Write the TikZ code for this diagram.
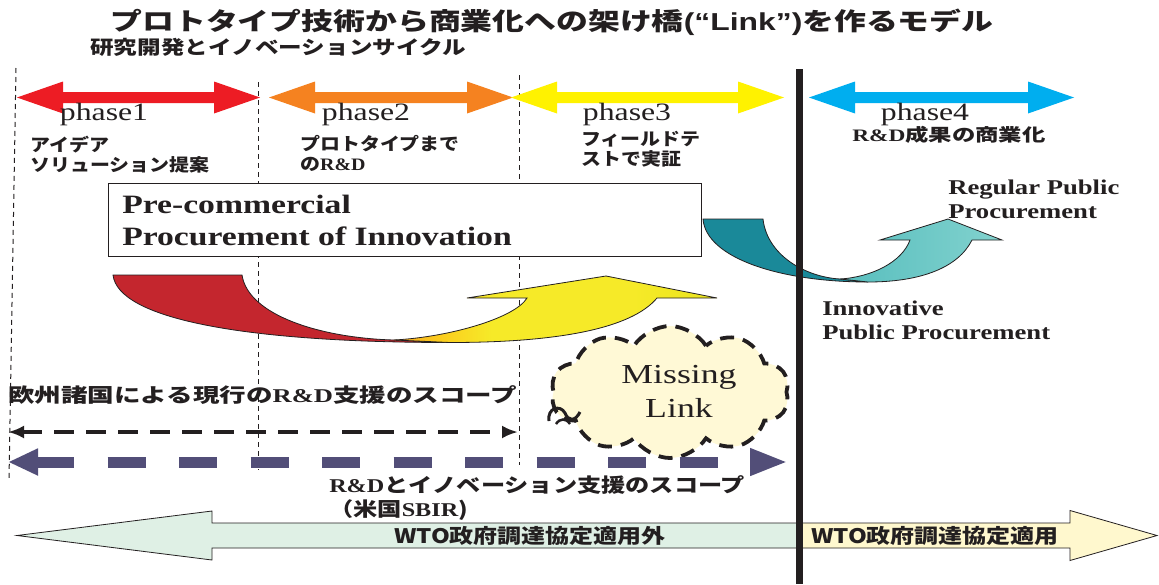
\documentclass[tikz,border=0pt]{standalone}
\usepackage{fontspec}
\setmainfont{Liberation Serif}
\newfontfamily\jp{Noto Sans CJK JP}
\newfontfamily\lsans{Liberation Sans}
\usetikzlibrary{shapes.symbols,arrows.meta}
\definecolor{ink}{RGB}{35,31,32}
\definecolor{phred}{RGB}{237,28,36}
\definecolor{phorange}{RGB}{245,130,32}
\definecolor{phyellow}{RGB}{255,242,0}
\definecolor{phblue}{RGB}{0,174,239}
\definecolor{darkred}{RGB}{196,38,46}
\definecolor{ylA}{RGB}{249,168,28}
\definecolor{ylM}{RGB}{251,204,30}
\definecolor{ylB}{RGB}{246,234,40}
\definecolor{ylC}{RGB}{234,228,30}
\definecolor{tealD}{RGB}{26,137,153}
\definecolor{tealA}{RGB}{88,190,190}
\definecolor{tealB}{RGB}{130,210,206}
\definecolor{scopeP}{RGB}{82,78,120}
\definecolor{wtoL}{RGB}{223,240,229}
\definecolor{wtoR}{RGB}{255,248,206}
\definecolor{cloudF}{RGB}{255,249,214}
\pgfdeclarehorizontalshading{ylshade}{100bp}{color(0bp)=(ylA); color(25bp)=(ylA); color(32bp)=(ylM); color(40bp)=(ylB); color(62bp)=(ylB); color(75bp)=(ylC); color(100bp)=(ylC)}
\newcommand\rdb[1]{{\rmfamily\bfseries #1}}
\newcommand\phasearrow[3]{%
  \fill[#3] (#1,97.5) -- ({#1+46},81.5) -- ({#1+46},92) -- ({#2-46},92) -- ({#2-46},81.5) -- (#2,97.5)
    -- ({#2-46},113.5) -- ({#2-46},103) -- ({#1+46},103) -- ({#1+46},113.5) -- cycle;}
\tikzset{
  vdash/.style={ink, line width=1, dash pattern=on 5 off 4},
  outl/.style={draw=ink, line width=0.8},
  jpb/.style={font=\jp\bfseries\fontsize{#1}{#1}\selectfont, text=ink, inner sep=0pt},
  phaselbl/.style={font=\fontsize{25}{30}\selectfont, text=ink, inner sep=0pt, xscale=1.27},
  desc/.style={font=\jp\bfseries\fontsize{17.5}{20}\selectfont, text=ink, inner sep=0pt, xscale=1.14, align=left, anchor=west},
  serifb/.style={font=\bfseries\fontsize{#1}{#1}\selectfont, text=ink, inner sep=0pt, xscale=1.27, align=left, anchor=west},
  wtotxt/.style={font=\jp\bfseries\fontsize{20}{24}\selectfont, text=ink, inner sep=0pt, xscale=1.2},
}
\begin{document}
\begin{tikzpicture}[x=1pt,y=-1pt]
\useasboundingbox (0,0) rectangle (1159,584);
\fill[white] (0,0) rectangle (1159,584);

% vertical dashed phase separators
\draw[vdash] (16,68) -- (9,480);
\draw[vdash] (258,82) -- (258,470);
\draw[vdash] (519,75) -- (519,465);

% title
\node[jpb=24.5, xscale=1.3] (title) at (552,22) {プロトタイプ技術から商業化への架け橋{\lsans\bfseries (“Link”)}を作るモデル};
\node[jpb=19, xscale=1.24] (sub) at (278,47.5) {研究開発とイノベーションサイクル};

% phase arrows
\phasearrow{17}{260}{phred}
\phasearrow{269}{513}{phorange}
\phasearrow{511}{784}{phyellow}
\phasearrow{809}{1074}{phblue}

\node[phaselbl, anchor=base] (p1) at (104,120) {phase1};
\node[phaselbl, anchor=base] (p2) at (366,120) {phase2};
\node[phaselbl, anchor=base] (p3) at (627,120) {phase3};
\node[phaselbl, anchor=base] (p4) at (925,120) {phase4};

\node[desc] (d1) at (30,155) {アイデア\\ソリューション提案};
\node[desc] (d2) at (300,153) {プロトタイプまで\\の\rdb{R\&D}};
\node[desc] (d3) at (581,149.5) {フィールドテ\\ストで実証};
\node[desc, xscale=1.17] (d4) at (852,135) {\rdb{R\&D}成果の商業化};

% PCP box
\node[draw=ink, line width=1, fill=white, minimum width=593, minimum height=73, anchor=north west, inner sep=0pt] (pcp) at (108,183) {};
\node[serifb=26.5, font=\bfseries\fontsize{26.5}{32}\selectfont] (pcptxt) at (122,220) {Pre-commercial\\Procurement of Innovation};

% red / yellow U-arrow
\path[fill=darkred, outl] (113,275) -- (242,275) .. controls (248,315) and (320,338) .. (394,340)
  -- (450,342.5) .. controls (240,342.5) and (118,318) .. (113,275) -- cycle;
\path[shading=ylshade, outl] (394,340) .. controls (450,337) and (515,318) .. (527,298)
  -- (467,298) -- (606,276) -- (717,298) -- (657,298) .. controls (632,328) and (560,342.5) .. (450,342.5) -- cycle;

% teal U-arrow
\path[fill=tealD, outl] (703,219) -- (763,219) .. controls (767,255) and (805,277) .. (840,279)
  -- (868,282) .. controls (780,282) and (706,258) .. (703,219) -- cycle;
\path[left color=tealA, right color=tealB, outl] (840,279) .. controls (872,277) and (902,262) .. (910,240)
  -- (880,240) -- (948,219) -- (1002,240) -- (972,240) .. controls (958,268) and (920,282) .. (868,282) -- cycle;

\node[serifb=21, font=\bfseries\fontsize{21}{24}\selectfont] (reg) at (948,199) {Regular Public\\Procurement};
\node[serifb=21, font=\bfseries\fontsize{21}{24}\selectfont] (ipp) at (822,320) {Innovative\\Public Procurement};

% missing link cloud
\node[cloud, cloud puffs=10, cloud puff arc=115, draw=ink, line width=3.8, dash pattern=on 14 off 9,
      fill=cloudF, minimum width=238, minimum height=132, inner sep=0pt] (cloud) at (670,392) {};
\draw[ink, line width=3] (549,421) .. controls (547,408) and (560,404) .. (565,413)
  .. controls (568,421) and (575,422) .. (580,412);
\draw[ink, line width=2.5] (556,424) .. controls (560,418) and (566,418) .. (570,424);
\node[font=\fontsize{27.5}{34}\selectfont, text=ink, xscale=1.3, align=center, inner sep=0pt] (ml) at (679,391) {Missing\\Link};

% scope texts and arrows
\node[jpb=19.5, xscale=1.36, anchor=west] (eu) at (8,395) {欧州諸国による現行の\rdb{R\&D}支援のスコープ};
\coordinate (sL) at (8,432);
\coordinate (sR) at (518,432);
\draw[ink, line width=3.4, dash pattern=on 20 off 12, {Latex[length=16pt,width=13pt]}-{Latex[length=16pt,width=13pt]}] (sL) -- (sR);
\coordinate (uL) at (8,462);
\coordinate (uR) at (788,462);
\draw[scopeP, line width=11, dash pattern=on 38 off 33.5, {Triangle[length=30pt,width=25pt]}-{Triangle[length=38pt,width=25pt]}] (uL) -- (uR);
\node[font=\jp\bfseries\fontsize{19.5}{24}\selectfont, text=ink, inner sep=0pt, xscale=1.24, align=left, anchor=west] (us) at (329,498) {\rdb{R\&D}とイノベーション支援のスコープ\\（米国\rdb{SBIR})};

% WTO arrow
\path[fill=wtoL, outl] (17,535.5) -- (212,511) -- (212,523) -- (799,523) -- (799,548) -- (212,548) -- (212,560) -- cycle;
\path[fill=wtoR, outl] (799,523) -- (1070,523) -- (1070,510.5) -- (1157,535.5) -- (1070,560.5) -- (1070,548) -- (799,548) -- cycle;
\node[wtotxt] (w1) at (530,535.5) {WTO政府調達協定適用外};
\node[wtotxt] (w2) at (935,535.5) {WTO政府調達協定適用};

% thick black divider
\draw[ink, line width=7] (799,69) -- (799,584);
\end{tikzpicture}
\end{document}
